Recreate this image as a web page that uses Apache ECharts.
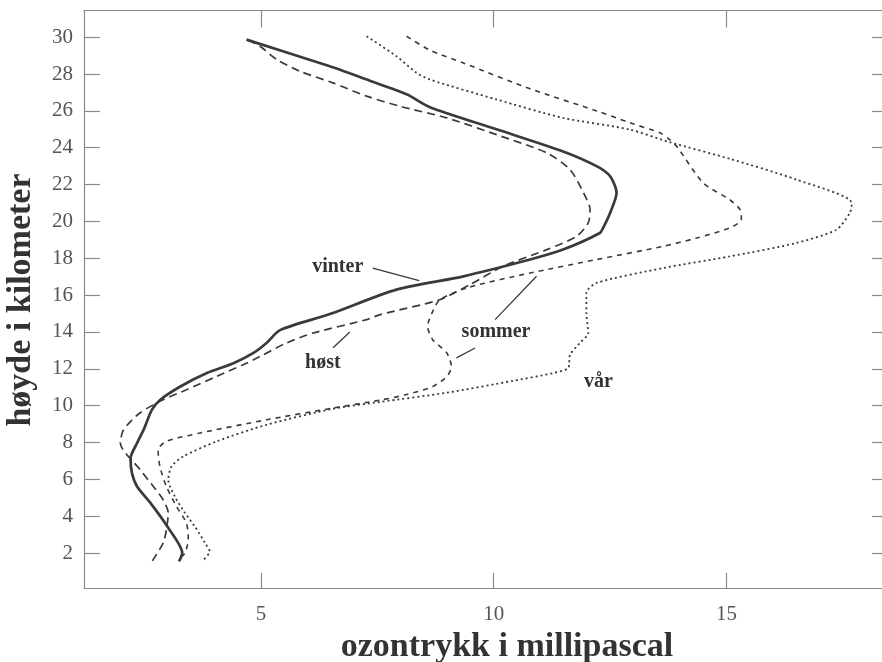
<!DOCTYPE html>
<html>
<head>
<meta charset="utf-8">
<script src="https://cdn.jsdelivr.net/npm/echarts@6/dist/echarts.min.js"></script>
<style>
html,body{margin:0;padding:0;background:#fff;}
#c{width:882px;height:662px;}
</style>
</head>
<body>
<div id="c"></div>
<script>
// [ozontrykk (mPa), høyde (km)]
var vinter = [[4.69,29.87],[6.48,28.42],[7.27,27.7],[8.13,26.9],[8.63,26.2],[10.06,25.0],[11.49,23.8],[12.21,23.0],[12.5,22.45],[12.64,21.55],[12.5,20.46],[12.35,19.65],[12.28,19.37],[11.49,18.47],[10.78,17.93],[9.35,17.02],[7.91,16.3],[6.48,14.97],[5.41,14.1],[5.12,13.4],[4.84,12.86],[4.41,12.3],[3.84,11.77],[3.27,11.04],[2.84,10.32],[2.66,9.78],[2.48,8.69],[2.34,7.97],[2.2,7.15],[2.23,6.34],[2.34,5.61],[2.63,4.71],[2.99,3.44],[3.31,2.0],[3.24,1.54]];
var host = [[4.72,29.85],[4.98,29.51],[5.34,28.79],[5.84,28.15],[6.55,27.52],[7.27,26.8],[7.99,26.25],[8.99,25.62],[10.06,24.71],[11.14,23.72],[11.64,22.81],[11.93,21.55],[12.07,20.64],[12.03,19.92],[11.78,19.19],[11.14,18.47],[10.2,17.56],[9.49,16.57],[8.84,15.75],[7.56,14.94],[7.27,14.67],[6.12,13.94],[5.55,13.4],[4.98,12.67],[4.62,12.22],[4.05,11.59],[3.4,10.86],[2.9,10.32],[2.4,9.6],[2.05,8.69],[1.98,7.97],[2.4,6.54],[2.69,5.61],[2.9,4.89],[3.01,4.17],[2.97,3.26],[2.9,2.54],[2.66,1.54]];
var sommer = [[8.13,30.05],[8.63,29.3],[9.35,28.6],[10.78,27.2],[12.21,26.0],[12.93,25.35],[13.57,24.81],[13.78,24.44],[13.93,24.08],[14.5,22.09],[15.07,21.18],[15.29,20.64],[15.32,20.1],[15.07,19.65],[14.36,19.1],[13.64,18.65],[12.21,17.93],[10.78,17.2],[9.42,16.39],[8.84,15.74],[8.69,15.12],[8.58,14.3],[8.69,13.58],[8.99,12.87],[9.09,12.13],[9.0,11.59],[8.69,11.04],[8.13,10.6],[7.56,10.3],[6.55,9.87],[5.12,9.23],[3.69,8.51],[2.97,8.06],[2.79,7.6],[2.83,6.7],[2.97,5.61],[3.19,4.52],[3.4,3.62],[3.44,2.72],[3.37,2.0],[3.3,1.81]];
var var_ = [[7.27,30.05],[7.91,28.97],[8.34,28.07],[8.63,27.7],[10.06,26.62],[11.49,25.62],[12.92,24.99],[13.78,24.3],[15.07,23.4],[16.5,22.27],[17.69,21.0],[17.65,20.46],[17.36,19.55],[16.5,18.83],[15.07,18.1],[13.64,17.47],[12.21,16.66],[11.99,16.12],[11.99,15.03],[12.03,13.94],[11.85,13.4],[11.64,12.76],[11.6,12.04],[11.28,11.77],[10.42,11.35],[8.99,10.7],[7.56,10.2],[6.55,9.83],[5.12,8.96],[4.05,8.06],[3.33,7.24],[3.08,6.7],[3.01,5.97],[3.15,5.07],[3.37,4.17],[3.58,3.44],[3.8,2.54],[3.9,2.08],[3.73,1.54]];

var xTicks = [5, 10, 15];
var yTicks = [2,4,6,8,10,12,14,16,18,20,22,24,26,28,30];

// annotation texts and anchor points (data coords)
var labelTexts = ['vinter', 'høst', 'sommer', 'vår'];
var labelPos = [[6.65,17.54],[6.33,12.33],[10.05,13.98],[12.25,11.31]];
var leaders = [
  [[7.4,17.47],[8.4,16.78]],
  [[6.55,13.14],[6.91,14.0]],
  [[10.03,14.67],[10.92,17.02]],
  [[9.2,12.59],[9.6,13.13]]
];

var axisCol = '#8a8a8a';
var lineCol = '#3a3a3a';
var serif = '"Liberation Serif","DejaVu Serif",serif';

var chart = echarts.init(document.getElementById('c'), null, {renderer:'canvas'});

function mkSeries(name, data, type, width) {
  return {
    name: name, type: 'line', data: data, symbol: 'none', smooth: 0.25,
    lineStyle: {color: lineCol, width: width, type: type, cap: 'butt'},
    z: 3, silent: true
  };
}

var series = [
  mkSeries('vinter', vinter, 'solid', 2.7),
  mkSeries('høst', host, [8,5], 1.7),
  mkSeries('sommer', sommer, [5,5], 1.6),
  mkSeries('vår', var_, [2,3], 1.8)
];
leaders.forEach(function(l){
  series.push({type:'line', data:l, symbol:'none', silent:true,
    lineStyle:{color:lineCol, width:1.3}, z:2});
});

chart.setOption({
  animation: false,
  backgroundColor: '#fff',
  grid: {left: 84, right: 0, top: 10.5, bottom: 74, containLabel: false},
  xAxis: [{
    type: 'value', min: 1.2, max: 18.34, position: 'bottom',
    axisLine: {show:true, onZero:false, lineStyle:{color:axisCol, width:1.2}},
    axisTick: {show:true, inside:true, length:15, customValues: xTicks, lineStyle:{color:axisCol, width:1.2}},
    axisLabel: {show:true, customValues: xTicks, margin: 16, color:'#555', fontFamily: serif, fontSize: 21},
    splitLine: {show:false}
  },{
    type: 'value', min: 1.2, max: 18.34, position: 'top',
    axisLine: {show:true, onZero:false, lineStyle:{color:axisCol, width:1.2}},
    axisTick: {show:true, inside:true, length:17, customValues: xTicks, lineStyle:{color:axisCol, width:1.2}},
    axisLabel: {show:false},
    splitLine: {show:false}
  }],
  yAxis: [{
    type: 'value', min: 0.1, max: 31.45, position: 'left',
    axisLine: {show:true, onZero:false, lineStyle:{color:axisCol, width:1.2}},
    axisTick: {show:true, inside:true, length:16, customValues: yTicks, lineStyle:{color:axisCol, width:1.2}},
    axisLabel: {show:true, customValues: yTicks, margin: 11, color:'#555', fontFamily: serif, fontSize: 21},
    splitLine: {show:false}
  },{
    type: 'value', min: 0.1, max: 31.45, position: 'right',
    axisLine: {show:false},
    axisTick: {show:true, inside:true, length:10, customValues: yTicks, lineStyle:{color:axisCol, width:1.2}},
    axisLabel: {show:false},
    splitLine: {show:false}
  }],
  series: series
});

var graphics = [
  {type:'text', x: 507, y: 647, style:{text:'ozontrykk i millipascal', font:'bold 34px '+serif, fill:'#333', align:'center', verticalAlign:'middle'}},
  {type:'text', x: 21, y: 300, rotation: Math.PI/2, style:{text:'høyde i kilometer', font:'bold 34px '+serif, fill:'#333', align:'center', verticalAlign:'middle'}}
];
labelTexts.forEach(function(t, i){
  var p = chart.convertToPixel({gridIndex:0}, labelPos[i]);
  graphics.push({type:'text', x:p[0], y:p[1], style:{text:t, font:'bold 20px '+serif, fill:'#333', align:'center', verticalAlign:'middle'}});
});
chart.setOption({graphic: graphics});
</script>
</body>
</html>
